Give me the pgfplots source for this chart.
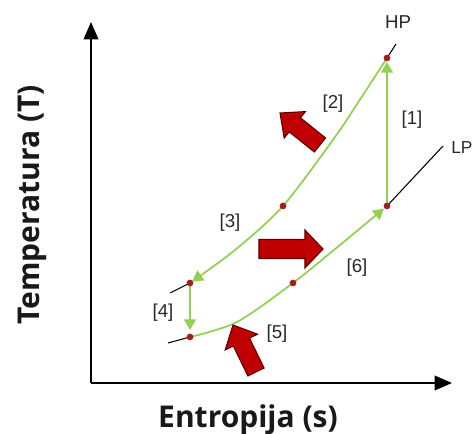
\documentclass[border=0pt]{standalone}
\usepackage{fontspec}
\setmainfont{Liberation Sans}
\newfontfamily\labfont{Open Sans}
\usepackage{pgfplots}
\pgfplotsset{compat=1.18}
\usetikzlibrary{arrows.meta}
\definecolor{cyc}{RGB}{146,208,80}
\definecolor{arrred}{RGB}{192,0,0}
\definecolor{arrdark}{RGB}{90,0,0}
\definecolor{dotred}{RGB}{165,30,30}
\definecolor{txt}{RGB}{40,40,40}

\begin{document}
\begin{tikzpicture}
\begin{axis}[
  scale only axis, width=270.75pt, height=270.75pt,
  xmin=91, xmax=452, ymin=51, ymax=412,
  axis lines=left, ticks=none, clip=false,
  axis line style={line width=1.1pt, -{Triangle[length=13pt,width=11pt]}},
  xlabel={Entropija (s)}, ylabel={Temperatura (T)},
  label style={font=\labfont\bfseries\fontsize{22.5}{26}\selectfont, text=black!90},
  x label style={at={(axis description cs:0.435,-0.122)}, anchor=base},
  y label style={at={(axis description cs:-0.144,0.493)}, anchor=base},
]
% pressure line extensions
\addplot[black, line width=0.8pt] coordinates {(170,141) (190,151)};
\addplot[black, line width=0.8pt] coordinates {(387,376) (396,390)};
\addplot[black, line width=0.8pt] coordinates {(168,91) (190,97)};
\addplot[black, line width=0.8pt] coordinates {(387,228) (443,288)};
% cycle
\addplot[cyc, line width=1.3pt, -{Triangle[length=8pt,width=9pt]}] coordinates {(387,228) (387,372)};
\addplot[cyc, line width=1.3pt, smooth, shorten >=2pt, -{Triangle[length=8pt,width=9pt]}] coordinates {(387,376) (361,336) (335,297) (283,228) (235,184) (190,151)};
\addplot[cyc, line width=1.3pt, -{Triangle[length=8pt,width=9pt]}] coordinates {(190,151) (190,104)};
\addplot[cyc, line width=1.3pt, smooth, shorten >=3pt, -{Triangle[length=8pt,width=9pt]}] coordinates {(190,97) (237,112) (293,151) (340,189) (387,228)};
% state points
\addplot[only marks, mark=*, mark size=2.3pt, color=dotred] coordinates {(387,376) (387,228) (283,228) (190,151) (190,97) (293,151)};
% red block arrows
\addplot[fill=arrred, draw=arrdark, line width=0.8pt] coordinates {(259,194.5) (305,194.5) (305,204) (323,185) (305,166) (305,175.5) (259,175.5)} -- cycle;
\addplot[fill=arrred, draw=arrdark, line width=0.8pt] coordinates {(314.4,282.0) (289.2,302.1) (284.2,295.9) (280,321) (305.5,322.4) (300.5,316.2) (325.6,296.0)} -- cycle;
\addplot[fill=arrred, draw=arrdark, line width=0.8pt] coordinates {(247.9,58.0) (233.3,88.0) (225.2,84.0) (233,109) (257.5,99.8) (249.5,95.9) (264.1,66.0)} -- cycle;
% labels
\begin{scope}[every node/.style={font=\fontsize{14}{16}\selectfont, text=txt}]
\node at (axis cs:412,314) {[1]};
\node at (axis cs:333,330) {[2]};
\node at (axis cs:230,211) {[3]};
\node at (axis cs:163,121) {[4]};
\node at (axis cs:277,100) {[5]};
\node at (axis cs:357,166) {[6]};
\node at (axis cs:398,412) {HP};
\node[anchor=west, inner sep=0pt, font=\fontsize{13}{15}\selectfont] at (axis cs:451,286) {LP};
\end{scope}
\coordinate (bbl) at (axis cs:0,0);
\coordinate (btr) at (axis cs:476,434);
\end{axis}
\pgfresetboundingbox
\path[use as bounding box] (bbl) rectangle (btr);
\end{tikzpicture}
\end{document}
